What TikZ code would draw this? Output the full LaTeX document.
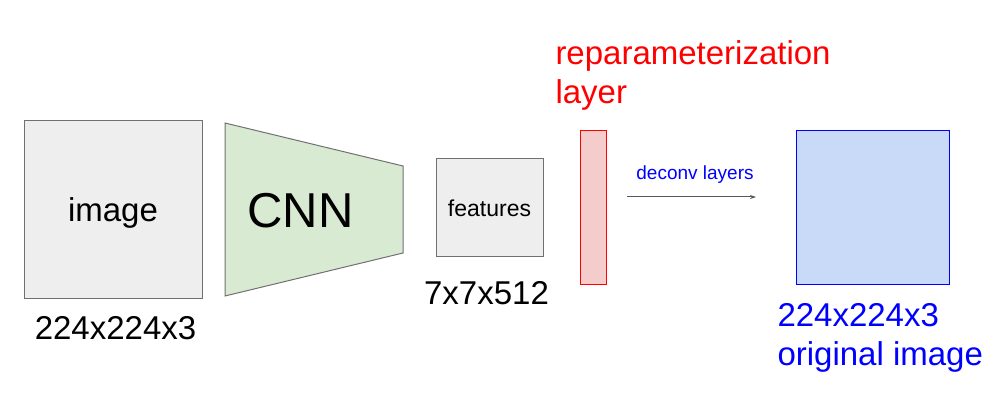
\documentclass[tikz,border=0pt]{standalone}
\usepackage{fontspec}
\setmainfont{Liberation Sans}
\usepackage{xcolor}
\usetikzlibrary{arrows.meta}

\definecolor{boxgray}{HTML}{EEEEEE}
\definecolor{edgegray}{HTML}{707070}
\definecolor{cnngreen}{HTML}{D9EAD3}
\definecolor{zred}{HTML}{F4CCCC}
\definecolor{outblue}{HTML}{C9DAF8}
\definecolor{arrowgray}{HTML}{595959}

\begin{document}
\begin{tikzpicture}[x=1pt, y=-1pt, line width=1pt,
		box/.style={draw=edgegray, fill=boxgray, inner sep=0pt},
		big/.style={font=\fontsize{33}{39}\selectfont},
		>={Stealth[length=6pt, width=4pt]}]
	\useasboundingbox (0,0) rectangle (996,403);

	% input and encoder
	\node[box, big, text depth=0pt, minimum width=178pt, minimum height=178pt] (image) at (113,210) {image};
	\coordinate (cnn tl) at (225,123);
	\coordinate (cnn tr) at (403,166);
	\coordinate (cnn br) at (403,253);
	\coordinate (cnn bl) at (225,296);
	\draw[draw=edgegray, fill=cnngreen] (cnn tl) -- (cnn tr) -- (cnn br) -- (cnn bl) -- cycle;
	\node[anchor=base, font=\fontsize{49}{56}\selectfont] (cnn) at (300.5,228) {CNN};
	\node[anchor=base, big] (insize) at (115.5,340) {224x224x3};

	% features
	\node[box, font=\fontsize{23}{27}\selectfont, minimum width=107pt, minimum height=98pt] (feat) at (489.5,208) {features};
	\node[anchor=base, big] (featsize) at (486.5,305) {7x7x512};

	% reparameterization layer
	\node[draw=red, fill=zred, inner sep=0pt, minimum width=26pt, minimum height=154pt] (z) at (593,208) {};
	\node[anchor=base west, big, text=red, align=left, inner sep=0pt] (zlabel) at (555,104) {reparameterization\\layer};

	% decoder
	\coordinate (dstart) at (627,197);
	\coordinate (dend) at (756,197);
	\draw[->, draw=arrowgray] (dstart) -- (dend);
	\node[anchor=base, text=blue, font=\fontsize{19}{23}\selectfont] (deconv) at (695,180) {deconv layers};

	% output
	\node[draw=blue, fill=outblue, inner sep=0pt, minimum width=153pt, minimum height=154pt] (out) at (872.5,208) {};
	\node[anchor=base west, big, text=blue, align=left, inner sep=0pt] (outlabel) at (777,365) {224x224x3\\original image};
\end{tikzpicture}
\end{document}
